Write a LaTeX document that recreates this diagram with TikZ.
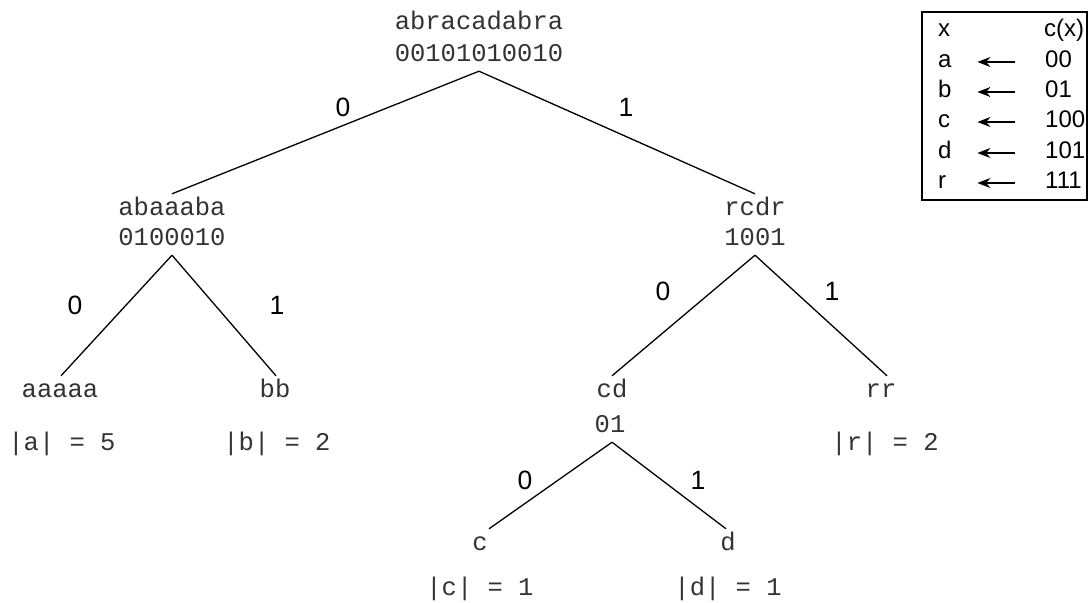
\documentclass[tikz,border=0pt]{standalone}
\usepackage{fontspec}
\setmainfont{Liberation Sans}
\setmonofont{Liberation Mono}
\usetikzlibrary{arrows.meta}
\begin{document}
\begin{tikzpicture}[x=1pt,y=-1pt,
  mono/.style={font=\fontsize{25.5}{30}\selectfont\ttfamily, text=black!80, inner sep=0pt, anchor=base, text height=21pt, text depth=10pt},
  lab/.style={font=\fontsize{26.5}{30}\selectfont, inner sep=0pt},
  cell/.style={font=\fontsize{24}{28}\selectfont, inner sep=0pt, anchor=base west, text height=10pt, text depth=0pt},
  edge/.style={line width=1.3pt},
  tarrow/.style={line width=1.4pt, -{Stealth[length=13pt,width=10pt]}, shorten <=30pt, shorten >=25pt}]
\useasboundingbox (0,0) rectangle (1091,602);
% tree nodes
\node[mono] (root) at (479,30) {abracadabra};
\node[mono] (rootb) at (479,61) {00101010010};
\node[mono] (l) at (172,215) {abaaaba};
\node[mono] (lb) at (172,245) {0100010};
\node[mono] (r) at (755,215) {rcdr};
\node[mono] (rb) at (755,245) {1001};
\node[mono] (ll) at (60,397) {aaaaa};
\node[mono] (lls) at (62,450) {|a| = 5};
\node[mono] (lr) at (275,397) {bb};
\node[mono] (lrs) at (277,450) {|b| = 2};
\node[mono] (rl) at (612,397) {cd};
\node[mono] (rlb) at (610,432) {01};
\node[mono] (rr) at (881,397) {rr};
\node[mono] (rrs) at (885,450) {|r| = 2};
\node[mono] (rll) at (480,550) {c};
\node[mono] (rlls) at (480,595) {|c| = 1};
\node[mono] (rlr) at (728,550) {d};
\node[mono] (rlrs) at (728,595) {|d| = 1};
% connectors
\draw[edge] (rootb.south) -- (l.north);
\draw[edge] (rootb.south) -- (r.north);
\draw[edge] (lb.south) -- ([xshift=1pt]ll.north);
\draw[edge] (lb.south) -- ([xshift=1pt]lr.north);
\draw[edge] (rb.south) -- (rl.north);
\draw[edge] (rb.south) -- ([xshift=6pt]rr.north);
\draw[edge] ([xshift=2pt]rlb.south) -- ([xshift=9pt]rll.north);
\draw[edge] ([xshift=2pt]rlb.south) -- ([xshift=-2pt]rlr.north);
% edge labels
\node[lab] (e1) at (343,107) {0};
\node[lab] (e2) at (626,107) {1};
\node[lab] (e3) at (75,305) {0};
\node[lab] (e4) at (277,305) {1};
\node[lab] (e5) at (663,291) {0};
\node[lab] (e6) at (832,291) {1};
\node[lab] (e7) at (525,480) {0};
\node[lab] (e8) at (698,480) {1};
% table
\node[draw, line width=1.2pt, minimum width=165pt, minimum height=188pt, inner sep=0pt] (tbl) at (1004.5,106) {};
\node[cell] (hx) at (938,37) {x};
\node[cell] (hc) at (1044,37) {c(x)};
\node[cell, text width=14pt] (sa) at (938,67) {a};
\node[cell] (ca) at (1045,67) {00};
\node[cell, text width=14pt] (sb) at (938,97) {b};
\node[cell] (cb) at (1045,97) {01};
\node[cell, text width=14pt] (sc) at (938,127) {c};
\node[cell] (cc) at (1045,127) {100};
\node[cell, text width=14pt] (sd) at (938,158) {d};
\node[cell] (cdd) at (1045,158) {101};
\node[cell, text width=14pt] (sr) at (938,188) {r};
\node[cell] (cr) at (1045,188) {111};
\draw[tarrow] (ca.west) -- (sa.east);
\draw[tarrow] (cb.west) -- (sb.east);
\draw[tarrow] (cc.west) -- (sc.east);
\draw[tarrow] (cdd.west) -- (sd.east);
\draw[tarrow] (cr.west) -- (sr.east);
\end{tikzpicture}
\end{document}
